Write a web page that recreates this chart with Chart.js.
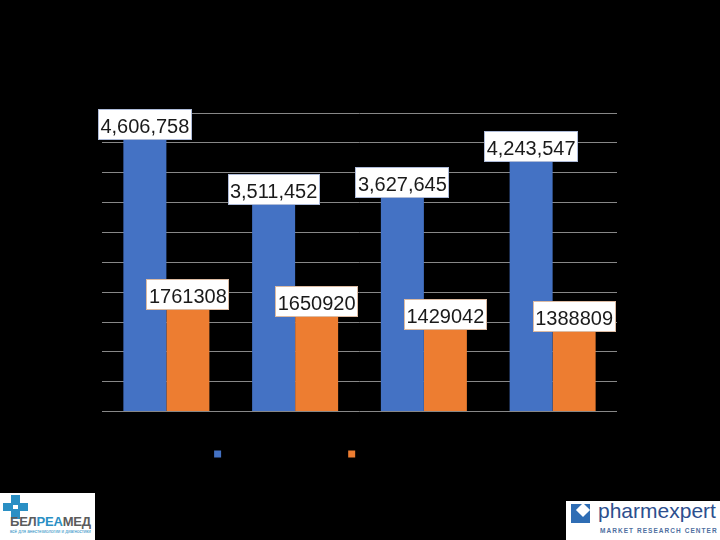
<!DOCTYPE html>
<html>
<head>
<meta charset="utf-8">
<script src="https://cdn.jsdelivr.net/npm/chart.js@4.4.1/dist/chart.umd.min.js"></script>
<style>
html,body{margin:0;padding:0;background:#000;}
#wrap{position:relative;width:720px;height:540px;overflow:hidden;background:#000;}
canvas{display:block;}
.logo{position:absolute;background:#fff;overflow:hidden;font-family:"Liberation Sans",Arial,sans-serif;}
#logoL{left:0;top:493px;width:95px;height:47px;}
#logoR{left:566px;top:501px;width:154px;height:39px;}
.crossV{position:absolute;left:11px;top:2px;width:9px;height:24px;background:#2a8fc4;}
.crossH{position:absolute;left:3px;top:10px;width:25px;height:8px;background:#2a8fc4;}
.crossIn{position:absolute;left:13px;top:12px;width:5px;height:4px;background:#fff;}
.brand{position:absolute;left:10px;top:21px;font-weight:bold;font-size:13px;letter-spacing:-0.2px;color:#5b5b5b;}
.brand b{color:#2a8fc4;}
.tag{position:absolute;left:10px;top:36px;font-size:4.5px;color:#2a8fc4;white-space:nowrap;}
.icon{position:absolute;left:5px;top:3px;width:19px;height:19px;background:#2f6db4;}
.icon i{position:absolute;left:7px;top:1px;width:10px;height:10px;background:#fff;transform:rotate(45deg);}
.pe{position:absolute;left:32px;top:-2px;font-size:21px;color:#2d4f8e;}
.mrc{position:absolute;left:34px;top:26px;font-size:6.5px;font-weight:bold;letter-spacing:1.05px;color:#4f6f9f;white-space:nowrap;}
</style>
</head>
<body>
<div id="wrap">
<canvas id="c" width="720" height="540"></canvas>
<div class="logo" id="logoL">
  <div class="crossV"></div><div class="crossH"></div><div class="crossIn"></div>
  <div class="brand">БЕЛ<b>РЕА</b>МЕД</div>
  <div class="tag">всё для анестезиологии и диагностики</div>
</div>
<div class="logo" id="logoR">
  <div class="icon"><i></i></div>
  <div class="pe">pharmexpert</div>
  <div class="mrc">MARKET RESEARCH CENTER</div>
</div>
</div>
<script>
// ---- data ----
const categories = ['2016', '2017', '2018', '2019'];
const seriesNames = ['Объем в упаковках', 'Объем в долларах (США)'];
const packages = [4606758, 3511452, 3627645, 4243547];
const dollars = [1761308, 1650920, 1429042, 1388809];
const yMin = 0;
const yMax = 5000000;
const yStep = 500000;

// ---- styles ----
const blue = '#4472C4';
const orange = '#ED7D31';
const labelBorders = ['#aebbd8', '#dcbba3'];

function withCommas(v) {
  return String(v).replace(/\B(?=(\d{3})+(?!\d))/g, ',');
}
const formatters = [withCommas, v => String(v)];

const boxLabels = {
  id: 'boxLabels',
  afterDatasetsDraw(chart) {
    const ctx = chart.ctx;
    ctx.save();
    ctx.font = '20px "Liberation Sans", Arial, sans-serif';
    chart.data.datasets.forEach((ds, di) => {
      const meta = chart.getDatasetMeta(di);
      meta.data.forEach((bar, i) => {
        const txt = formatters[di](ds.data[i]);
        const w = Math.round(ctx.measureText(txt).width + 5);
        const h = 31;
        const bottom = Math.round(bar.y + 3.5);
        const left = Math.round(bar.x - w / 2);
        ctx.fillStyle = '#ffffff';
        ctx.fillRect(left, bottom - h, w, h);
        ctx.strokeStyle = labelBorders[di];
        ctx.lineWidth = 1;
        ctx.strokeRect(left + 0.5, bottom - h + 0.5, w - 1, h - 1);
        ctx.fillStyle = '#1a1a1a';
        ctx.textAlign = 'center';
        ctx.textBaseline = 'alphabetic';
        ctx.fillText(txt, bar.x, bottom - 7);
      });
    });
    ctx.restore();
  }
};

new Chart(document.getElementById('c'), {
  type: 'bar',
  data: {
    labels: categories,
    datasets: [
      { label: seriesNames[0], data: packages, backgroundColor: blue, borderWidth: 0 },
      { label: seriesNames[1], data: dollars, backgroundColor: orange, borderWidth: 0 }
    ]
  },
  options: {
    responsive: false,
    animation: false,
    devicePixelRatio: 1,
    layout: { padding: { left: 102, right: 103, top: 113, bottom: 70 } },
    datasets: { bar: { categoryPercentage: 0.668, barPercentage: 1.0 } },
    plugins: {
      legend: {
        position: 'bottom',
        labels: {
          boxWidth: 7,
          boxHeight: 7,
          padding: 14,
          color: '#000000',
          font: { family: '"Liberation Sans", Arial, sans-serif', size: 12 }
        }
      },
      tooltip: { enabled: false },
      title: { display: false }
    },
    scales: {
      x: {
        grid: { display: false, drawTicks: false },
        border: { display: false },
        ticks: { color: '#000000', padding: 4, font: { family: '"Liberation Sans", Arial, sans-serif', size: 12 } }
      },
      y: {
        min: yMin,
        max: yMax,
        ticks: { display: false, stepSize: yStep },
        grid: { color: '#878787', lineWidth: 1, drawTicks: false },
        border: { display: false }
      }
    }
  },
  plugins: [boxLabels]
});
</script>
</body>
</html>
